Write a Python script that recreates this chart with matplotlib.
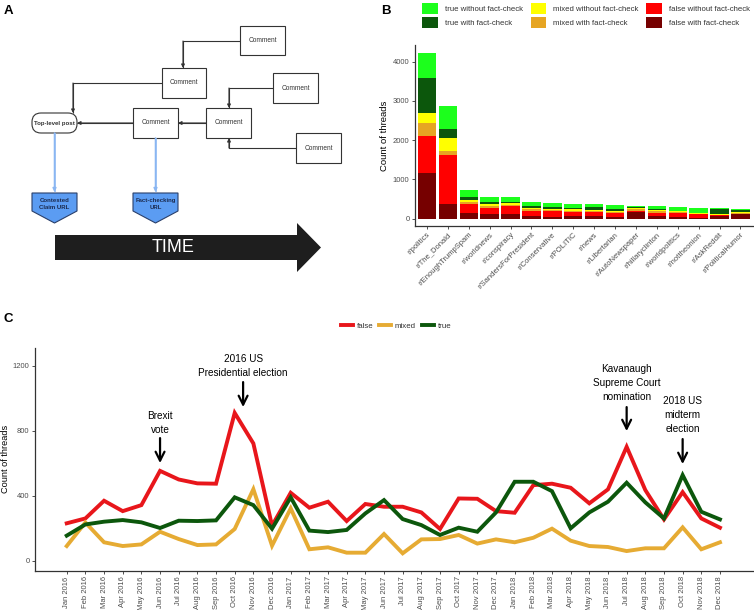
import numpy as np
import matplotlib
matplotlib.use('Agg')
import matplotlib.pyplot as plt
from matplotlib.patches import Rectangle, FancyBboxPatch, Polygon, Patch
from matplotlib.lines import Line2D

plt.rcParams['font.family'] = ['Liberation Sans', 'DejaVu Sans']

W, H = 754, 610

# ---- panel B data (stacked counts per subreddit) ----
subreddits = ['r/politics', 'r/The_Donald', 'r/EnoughTrumpSpam', 'r/worldnews', 'r/conspiracy',
              'r/SandersForPresident', 'r/Conservative', 'r/POLITIC', 'r/news', 'r/Libertarian',
              'r/AutoNewspaper', 'r/hillaryclinton', 'r/worldpolitics', 'r/nottheonion',
              'r/AskReddit', 'r/PoliticalHumor']
false_with = [1155, 374, 137, 111, 111, 77, 51, 68, 68, 51, 170, 68, 51, 10, 68, 110]
false_without = [957, 1239, 237, 169, 211, 119, 136, 110, 93, 85, 20, 85, 93, 100, 17, 17]
mixed_with = [315, 117, 43, 51, 34, 42, 33, 25, 25, 34, 60, 34, 17, 17, 17, 26]
mixed_without = [255, 316, 59, 43, 34, 42, 34, 34, 34, 34, 20, 33, 26, 17, 17, 25]
true_with = [891, 236, 68, 59, 26, 42, 34, 26, 85, 33, 40, 34, 17, 9, 139, 42]
true_without = [636, 586, 186, 127, 127, 111, 102, 110, 59, 111, 10, 68, 84, 110, 5, 34]

# ---- panel C data (monthly counts) ----
month_names = ['Jan', 'Feb', 'Mar', 'Apr', 'May', 'Jun', 'Jul', 'Aug', 'Sep', 'Oct', 'Nov', 'Dec']
months = [m + ' ' + y for y in ['2016', '2017', '2018'] for m in month_names]
false_counts = [230, 260, 369, 305, 342, 553, 500, 476, 474, 910, 722, 215,
                418, 326, 363, 244, 349, 332, 332, 297, 195, 383, 381, 305,
                295, 465, 474, 449, 353, 439, 701, 435, 254, 422, 260, 203]
mixed_counts = [90, 235, 113, 90, 100, 178, 133, 96, 100, 195, 440, 92,
                322, 70, 82, 49, 49, 164, 45, 131, 133, 158, 105, 131,
                113, 141, 197, 123, 90, 84, 59, 76, 76, 205, 70, 113]
true_counts = [154, 223, 240, 250, 236, 201, 246, 244, 248, 390, 342, 197,
               390, 185, 176, 189, 291, 373, 256, 219, 158, 203, 178, 297,
               486, 486, 428, 199, 297, 363, 480, 359, 260, 527, 301, 254]


def px(l, t, r, b):
    return [l / W, 1 - b / H, (r - l) / W, (b - t) / H]


def classic(ax):
    for s in ['top', 'right']:
        ax.spines[s].set_visible(False)
    for s in ['left', 'bottom']:
        ax.spines[s].set_color('#333333')
        ax.spines[s].set_linewidth(0.9)
    ax.tick_params(color='#333333', labelcolor='#4d4d4d', length=2.5, width=0.6,
                   labelsize=5.5, pad=1.5)


fig = plt.figure(figsize=(W / 100, H / 100), dpi=100)

# ---------------- panel A: diagram ----------------
axa = fig.add_axes(px(0, 0, 370, 300))
axa.set_xlim(0, 370)
axa.set_ylim(300, 0)
axa.axis('off')

dark = '#333333'
boxes = [(240, 26, 285, 55), (162, 68, 206, 98), (273, 73, 318, 103),
         (133, 108, 178, 138), (206, 108, 251, 138), (296, 133, 341, 163)]
for l, t, r, b in boxes:
    axa.add_patch(Rectangle((l, t), r - l, b - t, fc='white', ec=dark, lw=0.8))
    axa.text((l + r) / 2, (t + b) / 2, 'Comment', ha='center', va='center',
             fontsize=4.7, color='#333333')

axa.add_patch(FancyBboxPatch((32, 113), 45, 20, boxstyle='round,pad=0,rounding_size=9',
                             fc='white', ec=dark, lw=0.8))
axa.text(54.5, 123, 'Top-level post', ha='center', va='center', fontsize=4.4,
         fontweight='bold', color='#333333')


def connector(points, color=dark, lw=0.8):
    xs = [p[0] for p in points]
    ys = [p[1] for p in points]
    axa.plot(xs, ys, color=color, lw=lw, solid_capstyle='butt')
    axa.annotate('', xy=points[-1], xytext=points[-2],
                 arrowprops=dict(arrowstyle='-|>', color=color, lw=lw,
                                 mutation_scale=5, shrinkA=0, shrinkB=0))


connector([(240, 41), (183, 41), (183, 68)])
connector([(162, 83), (73, 83), (73, 113)])
connector([(273, 88), (229, 88), (229, 108)])
connector([(296, 148), (229, 148), (229, 138)])
connector([(206, 123), (178, 123)])
connector([(133, 123), (77, 123)])

blue_line = '#8ab6f2'
connector([(54.5, 133), (54.5, 192)], color=blue_line, lw=1.1)
connector([(155.5, 138), (155.5, 192)], color=blue_line, lw=1.1)

for cx, label in [(54.5, 'Contested\nClaim URL'), (155.5, 'Fact-checking\nURL')]:
    l, r = cx - 22.5, cx + 22.5
    axa.add_patch(Polygon([(l, 193), (r, 193), (r, 211), (cx, 223), (l, 211)],
                          closed=True, fc='#5b9cf2', ec='#2a3f6a', lw=0.8))
    axa.text(cx, 204, label, ha='center', va='center', fontsize=4.3,
             fontweight='bold', color='#1b2a4e', linespacing=1.3)

axa.add_patch(Polygon([(55, 235), (297, 235), (297, 223), (321, 247.5), (297, 272),
                       (297, 260), (55, 260)], closed=True, fc='#1e1e1e', ec='none'))
axa.text(173, 248, 'TIME', ha='center', va='center', fontsize=13, color='white')

# ---------------- panel B: stacked bars ----------------
axb = fig.add_axes(px(415, 45, 753, 225.7))
x = np.arange(len(subreddits))
segments = [
    (false_with, '#760000', 'false with fact-check'),
    (false_without, '#ff0000', 'false without fact-check'),
    (mixed_with, '#e6a523', 'mixed with fact-check'),
    (mixed_without, '#ffff00', 'mixed without fact-check'),
    (true_with, '#0c570c', 'true with fact-check'),
    (true_without, '#1cff1c', 'true without fact-check'),
]
bottom = np.zeros(len(subreddits))
for vals, col, lab in segments:
    axb.bar(x, vals, 0.88, bottom=bottom, color=col, label=lab, lw=0)
    bottom = bottom + np.array(vals)

axb.set_xlim(-0.57, 15.6)
axb.set_ylim(-178, 4420)
axb.set_yticks([0, 1000, 2000, 3000, 4000])
axb.set_xticks(x)
axb.set_xticklabels(subreddits, rotation=45, ha='right', rotation_mode='anchor')
classic(axb)
axb.set_ylabel('Count of threads', fontsize=6.8, color='black', labelpad=3)

leg_order = [5, 4, 3, 2, 1, 0]
handles = [Patch(fc=segments[i][1], ec='none') for i in leg_order]
labels = [segments[i][2] for i in leg_order]
fig.legend(handles, labels, ncol=3, loc='center', bbox_to_anchor=(586 / W, 1 - 15.5 / H),
           frameon=False, fontsize=5.6, handlelength=2.0, handleheight=1.8,
           handletextpad=0.85, columnspacing=1.05, labelspacing=0.3, borderpad=0,
           labelcolor='#333333')

# ---------------- panel C: monthly lines ----------------
axc = fig.add_axes(px(35, 348, 753, 570.7))
xm = np.arange(len(months))
axc.plot(xm, false_counts, color='#e8161b', lw=2.8, label='false', solid_joinstyle='miter')
axc.plot(xm, mixed_counts, color='#e6ab33', lw=2.8, label='mixed', solid_joinstyle='miter')
axc.plot(xm, true_counts, color='#0c570c', lw=2.8, label='true', solid_joinstyle='miter')
axc.set_xlim(-1.7, 36.77)
axc.set_ylim(-62, 1310)
axc.set_yticks([0, 400, 800, 1200])
axc.set_xticks(xm)
axc.set_xticklabels(months, rotation=90, ha='center', va='top')
classic(axc)
axc.set_ylabel('Count of threads', fontsize=6.6, color='black', labelpad=2)
axc.legend(loc='center', bbox_to_anchor=(396 / W, 1 - 326 / H),
           bbox_transform=fig.transFigure, ncol=3, frameon=False, fontsize=5.7,
           handlelength=1.5, handletextpad=0.5, columnspacing=0.75, borderpad=0,
           labelcolor='#333333')

notes = [
    (5, 845, 'Brexit\nvote', 755, 601),
    (9.45, 1198, '2016 US\nPresidential election', 1100, 946),
    (30, 1096, 'Kavanaugh\nSupreme Court\nnomination', 946, 798),
    (33, 898, '2018 US\nmidterm\nelection', 749, 595),
]
for xa, ty, txt, y0, y1 in notes:
    axc.text(xa, ty, txt, ha='center', va='center', fontsize=7.2, linespacing=1.5)
    axc.annotate('', xy=(xa, y1), xytext=(xa, y0),
                 arrowprops=dict(arrowstyle='->', color='black', lw=1.6,
                                 mutation_scale=16, shrinkA=0, shrinkB=0))

fig.text(4 / W, 1 - 11 / H, 'A', fontsize=9.5, fontweight='bold', va='center')
fig.text(381 / W, 1 - 11 / H, 'B', fontsize=9.5, fontweight='bold', va='center')
fig.text(4 / W, 1 - 319 / H, 'C', fontsize=9.5, fontweight='bold', va='center')

fig.savefig('out.png', dpi=100)
